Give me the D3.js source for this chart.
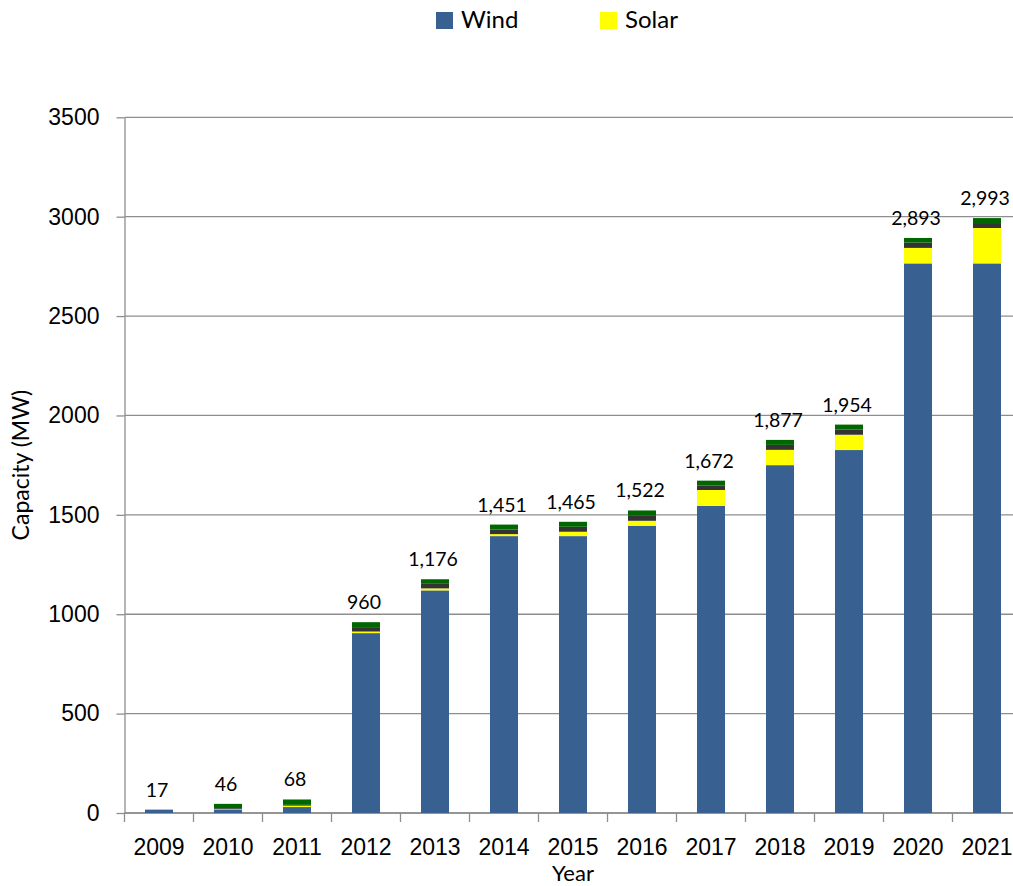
<!DOCTYPE html>
<html>
<head>
<meta charset="utf-8">
<script src="https://cdn.jsdelivr.net/npm/d3@7"></script>
<style>
	body { margin: 0; background: #fff; }
	svg { display: block; font-family: Lato, "Open Sans", sans-serif; }
	.grid line { stroke: #8e8e8e; stroke-width: 1.3; }
	.axis path, .axis line { stroke: #8e8e8e; stroke-width: 1.3; }
	.axis text { fill: #000; font-size: 23px; }
</style>
</head>
<body>
<svg></svg>
<script>
// chart data
var years = ["2009", "2010", "2011", "2012", "2013", "2014", "2015", "2016", "2017", "2018", "2019", "2020", "2021"];
var wind  = [16, 17, 30, 905, 1120, 1393, 1393, 1445, 1545, 1750, 1826, 2765, 2765];
var solar = [0, 2, 7, 8, 10, 10, 22, 25, 80, 77, 77, 78, 178];
var other = [0, 5, 4, 22, 23, 23, 25, 25, 23, 25, 26, 27, 25];
var hydro = [1, 22, 27, 25, 23, 25, 25, 27, 24, 25, 25, 23, 25];
var totals = [17, 46, 68, 960, 1176, 1451, 1465, 1522, 1672, 1877, 1954, 2893, 2993];
var yTicks = [0, 500, 1000, 1500, 2000, 2500, 3000, 3500];

var keys = ["wind", "solar", "other", "hydro"];
var colors = { wind: "#386192", solar: "#ffff00", other: "#333333", hydro: "#006600" };
var legendItems = [{ key: "wind", label: "Wind", x: 436 }, { key: "solar", label: "Solar", x: 600 }];

// table for the stack layout
var table = years.map(function(y, i) {
	return { year: y, wind: wind[i], solar: solar[i], other: other[i], hydro: hydro[i], total: totals[i] };
});

var width = 1013, height = 886;
var plot = { left: 124.5, right: 1021.5, top: 117.3, bottom: 813 };

var svg = d3.select("svg")
	.attr("width", width)
	.attr("height", height);

// scales
var xscale = d3.scaleBand()
	.domain(years)
	.range([plot.left, plot.right])
	.paddingInner(0.594)
	.paddingOuter(0.297);

var yscale = d3.scaleLinear()
	.domain([0, 3500])
	.range([plot.bottom, plot.top]);

// horizontal grid lines
svg.append("g")
	.attr("class", "grid")
	.selectAll("line")
	.data(yTicks)
	.enter().append("line")
		.attr("x1", plot.left)
		.attr("x2", plot.right)
		.attr("y1", function(d) { return yscale(d); })
		.attr("y2", function(d) { return yscale(d); });

// y axis, plain numbers without thousands separator
var yaxis = d3.axisLeft(yscale).tickValues(yTicks).tickFormat(d3.format("d"))
	.tickSize(8).tickPadding(17).tickSizeOuter(0);
svg.append("g")
	.attr("class", "axis")
	.attr("transform", "translate(" + plot.left + ",0)")
	.call(yaxis);

// x axis: labels at band centres, ticks at band boundaries
var step = xscale.step();
var xaxis = d3.axisBottom(xscale).tickSize(0).tickPadding(26).tickSizeOuter(0);
var gx = svg.append("g")
	.attr("class", "axis")
	.attr("transform", "translate(0," + plot.bottom + ")")
	.call(xaxis);
gx.select(".domain").remove();
gx.append("line")
	.attr("x1", plot.left)
	.attr("x2", plot.right)
	.attr("stroke", "#8e8e8e")
	.attr("stroke-width", 1.3);
gx.selectAll(".bound")
	.data(years)
	.enter().append("line")
		.attr("class", "bound")
		.attr("x1", function(d) { return xscale(d) + xscale.bandwidth() / 2 - step / 2; })
		.attr("x2", function(d) { return xscale(d) + xscale.bandwidth() / 2 - step / 2; })
		.attr("y1", 0)
		.attr("y2", 9);

// stacked bars
var series = d3.stack().keys(keys)(table);
svg.append("g")
	.selectAll("g")
	.data(series)
	.enter().append("g")
		.attr("fill", function(d) { return colors[d.key]; })
	.selectAll("rect")
	.data(function(d) { return d; })
	.enter().append("rect")
		.attr("x", function(d) { return xscale(d.data.year); })
		.attr("width", xscale.bandwidth())
		.attr("y", function(d) { return yscale(d[1]); })
		.attr("height", function(d) { return yscale(d[0]) - yscale(d[1]); });

// total labels
svg.append("g")
	.selectAll("text")
	.data(table)
	.enter().append("text")
		.attr("x", function(d) { return xscale(d.year) + xscale.bandwidth() / 2 - 2; })
		.attr("y", function(d) { return yscale(d.total) - 13; })
		.attr("text-anchor", "middle")
		.attr("font-size", "19.5px")
		.text(function(d) { return d3.format(",")(d.total); });

// axis titles
svg.append("text")
	.attr("transform", "translate(29," + ((plot.top + plot.bottom) / 2) + ") rotate(-90)")
	.attr("text-anchor", "middle")
	.attr("font-size", "23px")
	.text("Capacity (MW)");

svg.append("text")
	.attr("x", (plot.left + plot.right) / 2)
	.attr("y", 881)
	.attr("text-anchor", "middle")
	.attr("font-size", "22px")
	.text("Year");

// legend
var legend = svg.append("g")
	.selectAll("g")
	.data(legendItems)
	.enter().append("g")
		.attr("transform", function(d) { return "translate(" + d.x + ",12)"; });
legend.append("rect")
	.attr("width", 17)
	.attr("height", 17)
	.attr("fill", function(d) { return colors[d.key]; });
legend.append("text")
	.attr("x", 25)
	.attr("y", 16)
	.attr("font-size", "24px")
	.text(function(d) { return d.label; });
</script>
</body>
</html>
